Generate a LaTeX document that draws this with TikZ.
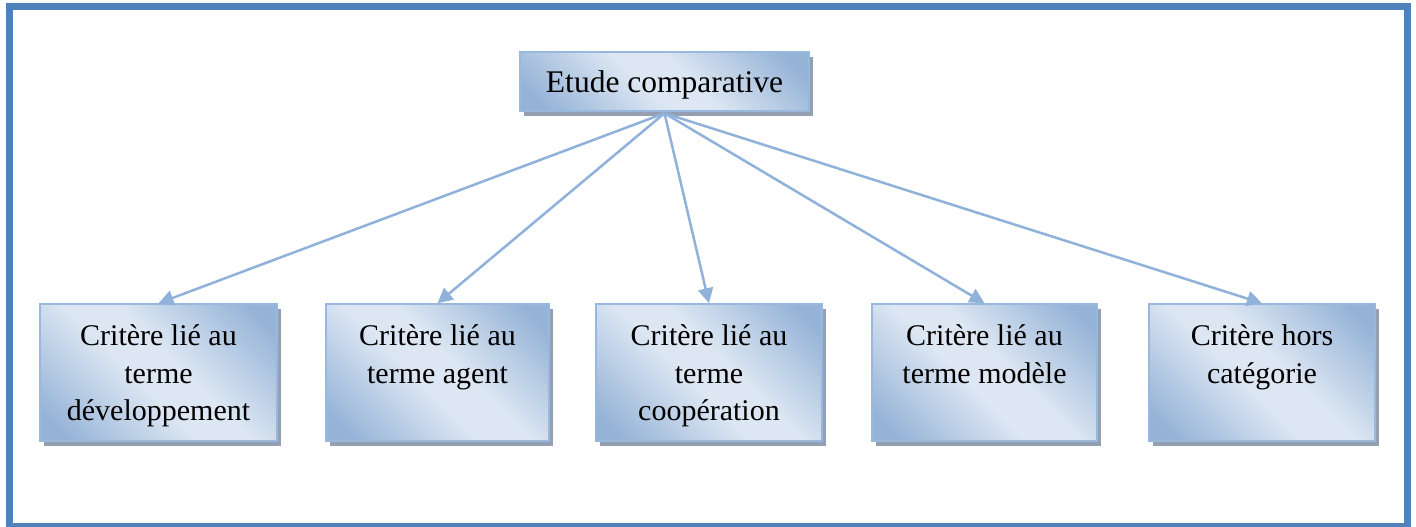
\documentclass[tikz,border=0pt]{standalone}
\usepackage{fontspec}
\setmainfont{Liberation Serif}
\usetikzlibrary{arrows.meta}
\definecolor{framecol}{RGB}{79,129,189}
\definecolor{boxdark}{RGB}{149,179,215}
\definecolor{boxlight}{RGB}{221,231,243}
\definecolor{boxline}{RGB}{152,184,222}
\definecolor{shadowcol}{RGB}{148,160,178}
\definecolor{linkcol}{RGB}{143,177,218}
% diagonal fill: dark corners, light band across the middle
\pgfdeclarehorizontalshading{cardshade}{100bp}{%
  color(0bp)=(boxdark); color(20bp)=(boxdark); color(45bp)=(boxlight);
  color(55bp)=(boxlight); color(80bp)=(boxdark); color(100bp)=(boxdark)}
\begin{document}
\begin{tikzpicture}[x=1pt,y=-1pt,
  card/.style={draw=boxline, line width=1.5pt,
    shading=cardshade, shading angle=45,
    preaction={fill=shadowcol, draw=none, transform canvas={shift={(4pt,-5pt)}}},
    inner sep=0pt},
  lowcard/.style={card, minimum height=137pt},
  label/.style={inner sep=0pt, align=center, font=\fontsize{30pt}{37.5pt}\selectfont},
  toplabel/.style={inner sep=0pt, font=\fontsize{31.5pt}{37.5pt}\selectfont},
  link/.style={draw=linkcol, line width=2.5pt, -{Triangle[length=15pt,width=15pt]}}
]
\useasboundingbox (0,0) rectangle (1416,527);
% outer frame
\draw[framecol, line width=6.7pt] (9.3,6.7) rectangle (1407.6,526);

% root box
\node[card, minimum width=289pt, minimum height=59pt] (top) at (664.5,81.5) {};
\node[toplabel] (ttop) at ([yshift=-3pt]top.center) {Etude comparative};

% criteria boxes
\node[lowcard, minimum width=237pt] (b1) at (158.5,372.5) {};
\node[lowcard, minimum width=223pt] (b2) at (437.5,372.5) {};
\node[lowcard, minimum width=226pt] (b3) at (709,372.5) {};
\node[lowcard, minimum width=225pt] (b4) at (984.5,372.5) {};
\node[lowcard, minimum width=226pt] (b5) at (1262,372.5) {};

\node[label, anchor=north] (t1) at ([yshift=-21.5pt]b1.north) {Critère lié au\\terme\\développement};
\node[label, anchor=north] (t2) at ([yshift=-21.5pt]b2.north) {Critère lié au\\terme agent};
\node[label, anchor=north] (t3) at ([yshift=-21.5pt]b3.north) {Critère lié au\\terme\\coopération};
\node[label, anchor=north] (t4) at ([yshift=-21.5pt]b4.north) {Critère lié au\\terme modèle};
\node[label, anchor=north] (t5) at ([yshift=-21.5pt]b5.north) {Critère hors\\catégorie};

% connectors
\foreach \b in {b1,b2,b3,b4,b5}
  \draw[link] ([yshift=-1.5pt]top.south) -- (\b.north);
\end{tikzpicture}
\end{document}
